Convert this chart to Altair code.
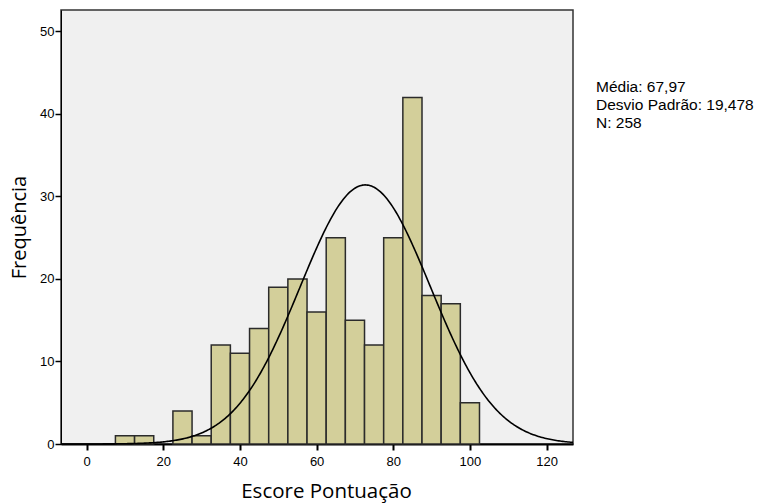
import altair as alt
import numpy as np
import pandas as pd

# Histogram bins (width 5) and their counts
bin_start = [7.5, 12.5, 17.5, 22.5, 27.5, 32.5, 37.5, 42.5, 47.5, 52.5,
             57.5, 62.5, 67.5, 72.5, 77.5, 82.5, 87.5, 92.5, 97.5]
counts = [1, 1, 0, 4, 1, 12, 11, 14, 19, 20, 16, 25, 15, 12, 25, 42, 18, 17, 5]
bin_width = 5

# Fitted normal curve parameters
curve_mean = 72.7
curve_sd = 17.0
curve_peak = 31.4

stats_lines = ["Média: 67,97", "Desvio Padrão: 19,478", "N: 258"]

x_domain = [-6.7, 126.9]
y_domain = [0, 52.6]
x_ticks = [0, 20, 40, 60, 80, 100, 120]
y_ticks = [0, 10, 20, 30, 40, 50]

bars_df = pd.DataFrame({
    "start": bin_start,
    "end": [b + bin_width for b in bin_start],
    "count": counts,
})
bars_df = bars_df[bars_df["count"] > 0]

xs = np.linspace(x_domain[0], x_domain[1], 400)
curve_df = pd.DataFrame({
    "x": xs,
    "y": curve_peak * np.exp(-0.5 * ((xs - curve_mean) / curve_sd) ** 2),
})

text_df = pd.DataFrame({"line": stats_lines, "i": list(range(len(stats_lines)))})

x_scale = alt.Scale(domain=x_domain, nice=False, zero=False)
y_scale = alt.Scale(domain=y_domain, nice=False)

x_axis = alt.Axis(
    values=x_ticks, title="Escore Pontuação", grid=False,
    labelFont="Liberation Sans", labelFontSize=13, labelColor="#000",
    tickSize=6, tickColor="#000", tickWidth=2, domainColor="#000", domainWidth=2,
    labelPadding=5, titleFont="Open Sans", titleFontSize=20.5, titleFontWeight="normal",
    titleColor="#000", titlePadding=13, titleX=265,
)
y_axis = alt.Axis(
    values=y_ticks, title="Frequência", grid=False,
    labelFont="Liberation Sans", labelFontSize=13, labelColor="#000",
    tickSize=6, tickColor="#000", tickWidth=1.5, domainColor="#000", domainWidth=1,
    labelPadding=1, titleFont="Open Sans", titleFontSize=20, titleFontWeight="normal",
    titleColor="#000", titlePadding=10,
)

bars = alt.Chart(bars_df).mark_rect(
    fill="#D3CF9A", stroke="#2b2b2b", strokeWidth=1.5
).encode(
    x=alt.X("start:Q", scale=x_scale, axis=x_axis),
    x2="end:Q",
    y=alt.Y("count:Q", scale=y_scale, axis=y_axis),
    y2=alt.datum(0),
)

curve = alt.Chart(curve_df).mark_line(color="#000", strokeWidth=1.6).encode(
    x=alt.X("x:Q", scale=x_scale),
    y=alt.Y("y:Q", scale=y_scale),
)

stats = alt.Chart(text_df).mark_text(
    align="left", baseline="middle", font="Liberation Sans", fontSize=15.5,
    color="#000", clip=False,
).encode(
    x=alt.value(535),
    y=alt.Y("i:Q", scale=alt.Scale(domain=[0, 10], range=[76.5, 76.5 + 10 * 18.3]), axis=None),
    text="line:N",
)

chart = alt.layer(alt.layer(bars, curve), stats).resolve_scale(y="independent").properties(
    width=512,
    height=434,
    autosize="none",
    padding={"left": 61, "top": 10, "right": 188, "bottom": 59},
    background="#ffffff",
).configure_view(
    fill="#F0F0F0", stroke="#333", strokeWidth=1.5
)

chart.save("out.html", embed_options={"renderer": "svg", "actions": False})
